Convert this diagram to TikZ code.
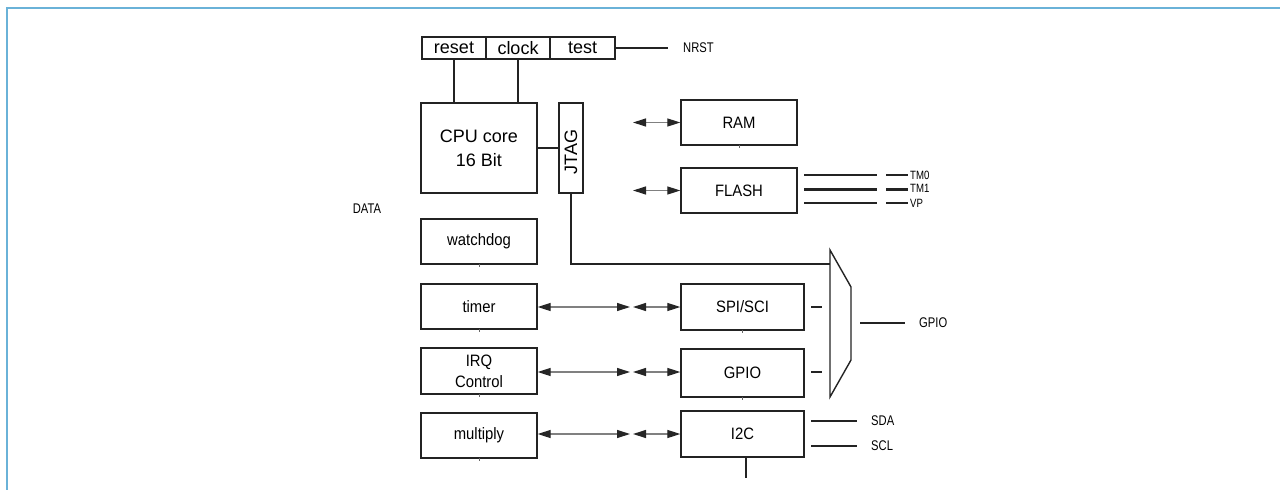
\documentclass[tikz,border=0pt]{standalone}
\usepackage{fontspec}
\setmainfont{Liberation Sans}
\newfontfamily\boxfont[FakeStretch=0.9]{Liberation Sans}
\newfontfamily\tagfont[FakeStretch=0.8]{Liberation Sans}
\usetikzlibrary{arrows.meta}
\definecolor{framecol}{RGB}{106,178,216}
\definecolor{edgecol}{RGB}{35,35,35}
\tikzset{
  blk/.style={draw=edgecol, line width=1.3pt, inner sep=0pt, align=center,
              font=\boxfont\fontsize{16.5}{21}\selectfont},
  bigtext/.style={font=\fontsize{18}{24}\selectfont},
  tag/.style={anchor=west, inner sep=0pt, font=\tagfont\fontsize{14}{14}\selectfont},
  smalltag/.style={anchor=west, inner sep=0pt, font=\tagfont\fontsize{12}{12}\selectfont},
  wire/.style={draw=edgecol, line width=1.4pt},
  thickwire/.style={draw=edgecol, line width=2pt},
  tipend/.tip={Triangle[length=13pt, width=8pt, color=black!85]},
  biarrow/.style={draw=black!50, line width=1.2pt, tipend-tipend},
  tick/.style={draw=black!60, line width=0.6pt}
}
\begin{document}
\begin{tikzpicture}[x=1pt, y=-1pt]
\useasboundingbox (0,0) rectangle (1280,490);

% page frame (top and left edges)
\draw[framecol, line width=1.6pt] (7,490) -- (7,8) -- (1280,8);

% reset / clock / test register strip
\node[blk, bigtext, minimum width=64, minimum height=22] (reset) at (454,48) {reset};
\node[blk, bigtext, minimum width=64, minimum height=22] (clock) at (518,48) {clock};
\node[blk, bigtext, minimum width=65, minimum height=22] (test)  at (582.5,48) {test};
\coordinate (nrstend) at (668,48);
\draw[wire] (test.east) -- (nrstend);
\node[tag] (nrst) at (683,48) {NRST};

% CPU core and JTAG
\node[blk, bigtext, minimum width=116, minimum height=90] (cpu) at (479,148) {CPU core\\16 Bit};
\node[blk, bigtext, minimum width=24, minimum height=90] (jtag) at (571,148) {};
\node[rotate=90, inner sep=0pt, font=\fontsize{18}{18}\selectfont] (jtagtxt) at (571,152) {JTAG};
\draw[wire] (reset.south) -- (reset.south |- cpu.north);
\draw[wire] (clock.south) -- (clock.south |- cpu.north);
\draw[wire] (cpu.east) -- (jtag.west);

% memories
\node[blk, minimum width=116, minimum height=45] (ram)   at (739,122.5) {RAM};
\node[blk, minimum width=116, minimum height=45] (flash) at (739,190.5) {FLASH};
\coordinate (ramin) at (633,122.5);
\coordinate (flashin) at (633,190.5);
\draw[biarrow] (ramin) -- (ram.west);
\draw[biarrow] (flashin) -- (flash.west);

% flash test pins
\foreach \yy/\lw in {175/1.5pt, 189.5/2.2pt, 203/1.5pt} {
  \draw[draw=edgecol, line width=\lw] (804,\yy) -- (877,\yy);
  \draw[draw=edgecol, line width=\lw] (886,\yy) -- (908,\yy);
}
\node[smalltag] (tm0) at (910,175) {TM0};
\node[smalltag] (tm1) at (910,188.5) {TM1};
\node[smalltag] (vp)  at (910,203) {VP};

\node[tag, anchor=center] (data) at (367,209) {DATA};

% left column of peripherals
\node[blk, minimum width=116, minimum height=45] (wdog)  at (479,241.5) {watchdog};
\node[blk, minimum width=116, minimum height=45] (timer) at (479,306.5) {timer};
\node[blk, minimum width=116, minimum height=46] (irq)   at (479,371) {IRQ\\Control};
\node[blk, minimum width=116, minimum height=45] (mult)  at (479,435.5) {multiply};

% right column of peripherals
\node[blk, minimum width=123, minimum height=46] (spi)  at (742.5,307) {SPI/SCI};
\node[blk, minimum width=123, minimum height=48] (gpio) at (742.5,373) {GPIO};
\node[blk, minimum width=123, minimum height=46] (i2c)  at (742.5,434) {I2C};

% bus connections between the two columns
\coordinate (tA) at (630,307);  \coordinate (tB) at (633,307);
\coordinate (iA) at (630,372);  \coordinate (iB) at (633,372);
\coordinate (mA) at (630,434);  \coordinate (mB) at (633,434);
\draw[biarrow] (timer.east |- tA) -- (tA);
\draw[biarrow] (tB) -- (spi.west);
\draw[biarrow] (irq.east |- iA) -- (iA);
\draw[biarrow] (iB) -- (gpio.west |- iB);
\draw[biarrow] (mult.east |- mA) -- (mA);
\draw[biarrow] (mB) -- (i2c.west);

% small port marks on the lower edges
\foreach \b in {wdog,timer,irq,mult,spi,gpio,ram}
  \draw[tick] ([yshift=1]\b.south) -- ([yshift=-2.5]\b.south);

% pin multiplexer
\coordinate (muxtl) at (830,250);
\coordinate (muxtr) at (851,287);
\coordinate (muxbr) at (851,360);
\coordinate (muxbl) at (830,397);
\draw[wire] (muxtl) -- (muxtr) -- (muxbr) -- (muxbl) -- cycle;
\coordinate (muxin) at (830,264);
\draw[thickwire] (jtag.south) |- (muxin);
\draw[thickwire] (811,307) -- (822,307);
\draw[wire] (811,372) -- (822,372);
\coordinate (gpioout) at (905,323);
\draw[wire] (860,323) -- (gpioout);
\node[tag] (gpiolbl) at (919,323) {GPIO};

% I2C pins
\draw[wire] (811,421) -- (857,421);
\draw[wire] (811,446) -- (857,446);
\node[tag] (sda) at (871,421) {SDA};
\node[tag] (scl) at (871,446) {SCL};
\draw[thickwire] ([xshift=3.5]i2c.south) -- ++(0,20);
\end{tikzpicture}
\end{document}
